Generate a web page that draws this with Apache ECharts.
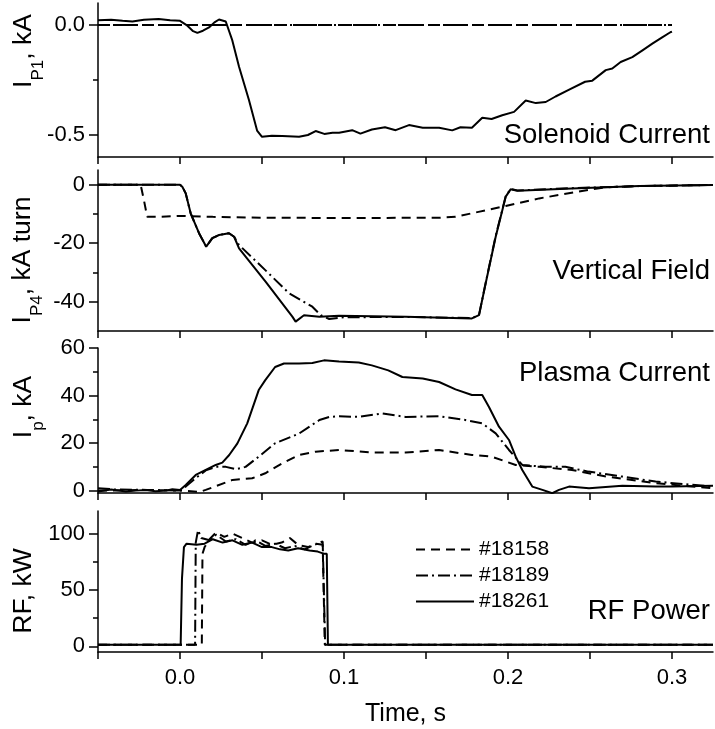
<!DOCTYPE html>
<html>
<head>
<meta charset="utf-8">
<title>Discharge waveforms</title>
<script src="https://cdn.jsdelivr.net/npm/echarts@6/dist/echarts.min.js"></script>
<style>
  html, body { margin: 0; padding: 0; background: #fff; }
  #chart { width: 715px; height: 729px; }
</style>
</head>
<body>
<div id="chart"></div>
<script>
// shared time axis (s)
const timeTicks = [-0.05, 0, 0.05, 0.1, 0.15, 0.2, 0.25, 0.3]
const timeLabels = [0, 0.1, 0.2, 0.3]
const shots = ['#18158', '#18189', '#18261']

// panel 1 - solenoid current, kA
const solenoid18158 = [[-0.05, 0], [0.3, 0]]
const solenoid18189 = [[-0.05, 0], [0.3, 0]]
const solenoid18261 = [
  [-0.05, 0.022], [-0.042, 0.024], [-0.035, 0.019], [-0.029, 0.016], [-0.022, 0.024], [-0.013, 0.027],
  [-0.006, 0.022], [0, 0.019], [0.0045, -0.003], [0.008, -0.028], [0.0106, -0.036], [0.014, -0.026],
  [0.0177, -0.011], [0.021, 0.012], [0.0238, 0.025], [0.0279, 0.016], [0.0319, -0.07], [0.036, -0.19],
  [0.042, -0.34], [0.047, -0.48], [0.05, -0.508], [0.056, -0.503], [0.0624, -0.505], [0.0726, -0.508],
  [0.078, -0.5], [0.0827, -0.482], [0.088, -0.495], [0.093, -0.49], [0.097, -0.49], [0.105, -0.478],
  [0.11, -0.494], [0.117, -0.475], [0.125, -0.465], [0.1315, -0.478], [0.1396, -0.455], [0.148, -0.467],
  [0.158, -0.467], [0.166, -0.479], [0.171, -0.465], [0.178, -0.467], [0.1843, -0.422], [0.19, -0.427],
  [0.1965, -0.41], [0.2037, -0.395], [0.2108, -0.343], [0.217, -0.355], [0.223, -0.35], [0.229, -0.325],
  [0.237, -0.295], [0.247, -0.258], [0.2514, -0.253], [0.2596, -0.205], [0.2636, -0.198], [0.2687, -0.168],
  [0.2758, -0.146], [0.282, -0.115], [0.288, -0.085], [0.294, -0.056], [0.299, -0.033], [0.3, -0.03]
]

// panel 2 - vertical field coil, kA turn
const field18158 = [
  [-0.05, 0], [-0.024, 0], [-0.022, -5.3], [-0.02, -11], [-0.013, -11], [0, -10.7], [0.02, -11],
  [0.052, -11.3], [0.1, -11.4], [0.158, -11.3], [0.168, -11], [0.182, -9.3], [0.1986, -7.3],
  [0.219, -4.7], [0.249, -1.8], [0.26, -0.9], [0.28, -0.5], [0.325, -0.1]
]
const field18189 = [
  [-0.05, 0], [0, 0], [0.0014, -0.7], [0.0035, -3], [0.0065, -9.8], [0.0116, -16.6], [0.016, -21.2],
  [0.0197, -18.3], [0.0238, -17.2], [0.0299, -16.6], [0.033, -17.8], [0.036, -20.6], [0.052, -29.2],
  [0.0665, -37.1], [0.0807, -41.7], [0.0858, -44.6], [0.091, -45.9], [0.1, -45.3], [0.1376, -45.2],
  [0.178, -45.6], [0.1823, -44.6], [0.1864, -33.5], [0.1925, -17.5], [0.1986, -4], [0.2016, -1.5],
  [0.2057, -2], [0.239, -1.2], [0.28, -0.5], [0.325, -0.1]
]
const field18261 = [
  [-0.05, 0], [0, 0], [0.0014, -0.7], [0.0035, -3], [0.0065, -9.8], [0.0116, -16.6], [0.016, -21.2],
  [0.0197, -18.3], [0.0238, -17.2], [0.0299, -16.6], [0.033, -17.8], [0.036, -21.8], [0.0523, -33.2],
  [0.0685, -45.1], [0.0705, -46.8], [0.0756, -44.6], [0.085, -45.1], [0.097, -44.8], [0.1376, -45.1],
  [0.178, -45.7], [0.1823, -44.6], [0.1864, -33.7], [0.1925, -17.8], [0.1986, -4.1], [0.2016, -1.6],
  [0.2057, -2.1], [0.239, -1.3], [0.28, -0.5], [0.325, -0.1]
]

// panel 3 - plasma current, kA
const plasma18158 = [
  [-0.05, 0], [-0.02, 0.3], [0, 0], [0.012, -0.5], [0.0157, 0.3], [0.032, 4.5], [0.044, 5.2], [0.052, 7.3],
  [0.0624, 11.5], [0.0726, 15], [0.0827, 16.4], [0.097, 17.1], [0.103, 16.8], [0.117, 16], [0.1376, 16],
  [0.158, 17.1], [0.178, 15], [0.19, 14.3], [0.2047, 10.8], [0.219, 10], [0.239, 8.7], [0.26, 5.9],
  [0.29, 3.1], [0.325, 1]
]
const plasma18189 = [
  [-0.05, 1], [-0.04, 0.5], [-0.02, 0.3], [0, 0], [0.0035, 1.7], [0.01, 5.5], [0.0157, 8.5], [0.0218, 10],
  [0.028, 10], [0.034, 9], [0.04, 10], [0.048, 14.3], [0.058, 19.9], [0.0726, 24], [0.085, 29.7],
  [0.091, 31], [0.097, 31.3], [0.109, 31], [0.1234, 32.5], [0.1376, 31], [0.158, 31.3], [0.174, 29.7],
  [0.1843, 28.3], [0.1925, 24.1], [0.2006, 17.1], [0.2087, 10.8], [0.223, 10], [0.235, 10], [0.249, 8],
  [0.2697, 5.9], [0.29, 3.8], [0.325, 1.7]
]
const plasma18261 = [
  [-0.05, -0.4], [-0.042, 0.5], [-0.033, -0.4], [-0.027, 0], [-0.021, 0.3], [-0.015, -0.3], [-0.0085, 0],
  [-0.0047, 0.6], [0, 0.3], [0.0035, 2.4], [0.0096, 6.6], [0.0157, 8.7], [0.0218, 10.8], [0.0258, 11.8],
  [0.03, 15], [0.035, 19.9], [0.041, 28.3], [0.048, 42.3], [0.052, 46.5], [0.058, 52], [0.0634, 53.5],
  [0.0726, 53.5], [0.0807, 53.7], [0.0878, 54.8], [0.097, 54.3], [0.109, 53.9], [0.117, 52.7],
  [0.127, 50.6], [0.1356, 47.8], [0.148, 47.2], [0.158, 45.7], [0.168, 42.6], [0.178, 40.2],
  [0.1843, 40.2], [0.1884, 35.2], [0.1945, 26.9], [0.2006, 21.3], [0.2047, 14.3], [0.2087, 8.7],
  [0.2148, 1.7], [0.221, 0.3], [0.227, -1.1], [0.2311, 0.3], [0.2372, 1.7], [0.2494, 1], [0.2697, 2],
  [0.29, 1.7], [0.3, 1.7], [0.325, 2]
]

// panel 4 - RF power, kW
const rf18158 = [
  [-0.05, 1.5], [0.0133, 1.5], [0.0137, 82], [0.015, 88], [0.018, 95], [0.022, 101], [0.027, 97],
  [0.032, 100], [0.038, 96], [0.044, 92], [0.05, 94], [0.056, 90], [0.062, 92], [0.067, 96], [0.072, 90],
  [0.078, 88], [0.083, 91], [0.087, 90], [0.0878, 90], [0.0883, 1.5], [0.325, 1.5]
]
const rf18189 = [
  [-0.05, 1.5], [0.0092, 1.5], [0.0096, 92], [0.011, 103], [0.013, 96], [0.018, 94], [0.022, 99],
  [0.028, 93], [0.034, 95], [0.04, 90], [0.046, 94], [0.052, 89], [0.058, 91], [0.064, 87], [0.07, 89],
  [0.076, 86], [0.082, 90], [0.087, 93], [0.0878, 93], [0.0885, 1.5], [0.325, 1.5]
]
const rf18261 = [
  [-0.05, 1.5], [0.0004, 1.5], [0.0012, 60], [0.0024, 88], [0.004, 91], [0.01, 90], [0.015, 91],
  [0.02, 95], [0.026, 92], [0.032, 94], [0.038, 90], [0.044, 92], [0.05, 88], [0.056, 88], [0.061, 86],
  [0.066, 85], [0.072, 87], [0.079, 85], [0.084, 84], [0.088, 82], [0.0895, 82], [0.0902, 1.5], [0.325, 1.5]
]

// y scales: [min, max], labelled ticks, short ticks
const solenoidRange = [-0.6, 0.1], solenoidTicks = [-0.5, 0], solenoidMinor = [-0.25]
const fieldRange = [-50, 5], fieldTicks = [-40, -20, 0], fieldMinor = [-30, -10]
const plasmaRange = [-1, 60], plasmaTicks = [0, 20, 40, 60], plasmaMinor = [10, 30, 50]
const rfRange = [-5, 120], rfTicks = [0, 50, 100], rfMinor = [25, 75]

const FONT = '"Liberation Sans", Arial, sans-serif'

const panels = [
  { top: 3, height: 154, range: solenoidRange, ticks: solenoidTicks, minor: solenoidMinor, digits: 1,
    data: [solenoid18158, solenoid18189, solenoid18261], note: 'Solenoid Current', noteY: 135 },
  { top: 170, height: 161, range: fieldRange, ticks: fieldTicks, minor: fieldMinor, digits: 0,
    data: [field18158, field18189, field18261], note: 'Vertical Field', noteY: 271 },
  { top: 348, height: 145, range: plasmaRange, ticks: plasmaTicks, minor: plasmaMinor, digits: 0,
    data: [plasma18158, plasma18189, plasma18261], note: 'Plasma Current', noteY: 373 },
  { top: 511, height: 141, range: rfRange, ticks: rfTicks, minor: rfMinor, digits: 0,
    data: [rf18158, rf18189, rf18261], note: 'RF Power', noteY: 611 }
]

const lineStyles = {
  '#18158': { type: [9, 6], width: 2, color: '#000' },
  '#18189': { type: [12, 4, 2, 4], width: 2, color: '#000' },
  '#18261': { type: 'solid', width: 2, color: '#000' }
}

const axisLine = { show: true, onZero: false, lineStyle: { color: '#000', width: 1.5 } }
const tickLine = { color: '#000', width: 1.5 }

const grid = [], xAxis = [], yAxis = [], series = [], graphic = []

panels.forEach((p, i) => {
  const last = i === panels.length - 1
  grid.push({ left: 98, right: 2, top: p.top, height: p.height })
  xAxis.push({
    gridIndex: i, type: 'value', min: -0.05, max: 0.325,
    axisLine: axisLine,
    axisTick: { customValues: timeTicks, length: 7, lineStyle: tickLine },
    axisLabel: {
      show: last, customValues: timeLabels, margin: 15, fontSize: 22, color: '#000', fontFamily: FONT,
      formatter: v => v.toFixed(1)
    },
    splitLine: { show: false },
    name: last ? 'Time, s' : '', nameLocation: 'middle', nameGap: 50,
    nameTextStyle: { fontSize: 25, color: '#000', fontFamily: FONT }
  })
  yAxis.push({
    gridIndex: i, type: 'value', position: 'left', min: p.range[0], max: p.range[1],
    axisLine: axisLine,
    axisTick: { customValues: p.ticks, length: 9, lineStyle: tickLine },
    axisLabel: {
      customValues: p.ticks, margin: 13, fontSize: 22, color: '#000', fontFamily: FONT,
      formatter: v => v.toFixed(p.digits)
    },
    splitLine: { show: false }
  })
  p.data.forEach((d, k) => {
    series.push({
      name: shots[k], type: 'line', xAxisIndex: i, yAxisIndex: i, data: d,
      symbol: 'none', lineStyle: lineStyles[shots[k]], color: '#000'
    })
  })
  graphic.push({
    type: 'text', x: 710, y: p.noteY,
    style: { text: p.note, fontSize: 27.5, fontFamily: FONT, fill: '#000', align: 'right', verticalAlign: 'middle' }
  })
})

// second set of y axes, only for the short unlabelled ticks
panels.forEach((p, i) => {
  yAxis.push({
    gridIndex: i, type: 'value', position: 'left', min: p.range[0], max: p.range[1],
    axisLine: { show: false, onZero: false },
    axisTick: { customValues: p.minor, length: 5, lineStyle: tickLine },
    axisLabel: { show: false },
    splitLine: { show: false }
  })
})

// y titles with subscripts
const titleRich = {
  m: { fontSize: 26.5, lineHeight: 29, verticalAlign: 'top', fontFamily: FONT },
  s: { fontSize: 17, lineHeight: 17, verticalAlign: 'top', padding: [19, 0, 0, 0], fontFamily: FONT }
}
const yTitles = [
  { text: '{m|I}{s|P1}{m|, kA}', x: 25, y: 51 },
  { text: '{m|I}{s|P4}{m|, kA turn}', x: 24, y: 260 },
  { text: '{m|I}{s|p}{m|, kA}', x: 25, y: 407 },
  { text: '{m|RF, kW}', x: 25, y: 591 }
]
yTitles.forEach(t => {
  graphic.push({
    type: 'text', x: t.x, y: t.y, rotation: Math.PI / 2,
    style: { text: t.text, rich: titleRich, fill: '#000', align: 'center', verticalAlign: 'middle' }
  })
})

const chart = echarts.init(document.getElementById('chart'))
chart.setOption({
  animation: false,
  backgroundColor: '#fff',
  textStyle: { fontFamily: FONT },
  grid: grid,
  xAxis: xAxis,
  yAxis: yAxis,
  legend: {
    data: shots, orient: 'vertical', left: 410, top: 534,
    itemWidth: 58, itemHeight: 14, itemGap: 5, selectedMode: false,
    itemStyle: { opacity: 0 },
    textStyle: { fontSize: 21, color: '#000', fontFamily: FONT }
  },
  series: series,
  graphic: graphic
})
</script>
</body>
</html>
